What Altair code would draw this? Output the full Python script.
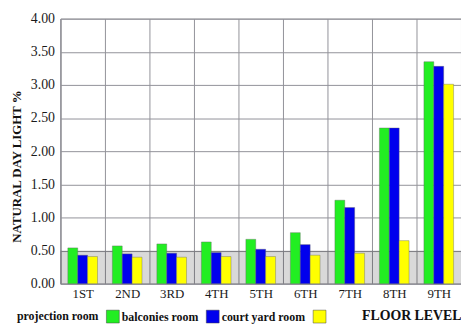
import altair as alt
import pandas as pd

floors = ["1ST", "2ND", "3RD", "4TH", "5TH", "6TH", "7TH", "8TH", "9TH"]
series = ["projection room", "balconies room", "court yard room"]
green_vals = [0.54, 0.57, 0.60, 0.63, 0.67, 0.77, 1.26, 2.35, 3.35]
blue_vals = [0.43, 0.45, 0.46, 0.47, 0.52, 0.59, 1.15, 2.35, 3.28]
yellow_vals = [0.41, 0.40, 0.40, 0.41, 0.41, 0.43, 0.46, 0.65, 3.01]
colors = ["#22ee22", "#0000ee", "#ffff00"]
legend_labels = ["balconies room", "court yard room", ""]
band_range = [0.0, 0.5]
y_ticks = [0.0, 0.5, 1.0, 1.5, 2.0, 2.5, 3.0, 3.5, 4.0]

rows = []
for s, vals in zip(series, [green_vals, blue_vals, yellow_vals]):
    for f, v in zip(floors, vals):
        rows.append({"floor": f, "series": s, "value": v})
df = pd.DataFrame(rows)

band_df = pd.DataFrame({"lo": [band_range[0]], "hi": [band_range[1]]})

FONT = "Liberation Serif"

label_map = "{" + ",".join(f"'{s}':'{l}'" for s, l in zip(series, legend_labels)) + "}"

yscale = alt.Scale(domain=[0, 4])

y_axis = alt.Axis(
    title="NATURAL DAY LIGHT %",
    titleFont=FONT,
    titleFontSize=13,
    titleFontWeight="bold",
    titleColor="#111111",
    titleX=-44,
    titleY=149,
    titleAlign="center",
    titleBaseline="middle",
    values=y_ticks,
    format=".2f",
    labelFont=FONT,
    labelFontSize=14,
    labelColor="#1a1a1a",
    labelPadding=6,
    labelOverlap=False,
    ticks=False,
    grid=True,
    gridColor="#929299",
    gridWidth=1,
    domainColor="#929299",
)

band = alt.Chart(band_df).mark_rect(color="#000000", opacity=0.15).encode(
    y=alt.Y("lo:Q", scale=yscale, axis=y_axis),
    y2="hi:Q",
)

bars = alt.Chart(df).mark_bar(stroke="#666666", strokeWidth=0.4).encode(
    x=alt.X(
        "floor:N",
        sort=floors,
        scale=alt.Scale(paddingInner=0, paddingOuter=0),
        axis=alt.Axis(
            title="FLOOR LEVEL",
            titleFont=FONT,
            titleFontSize=14,
            titleFontWeight="bold",
            titleColor="#111111",
            titleAnchor="end",
            titleAlign="right",
            titleBaseline="middle",
            titleX=405,
            titleY=32,
            labelFont=FONT,
            labelFontSize=13,
            labelColor="#1a1a1a",
            labelAngle=0,
            labelPadding=4,
            ticks=False,
            tickBand="extent",
            grid=True,
            gridColor="#929299",
            gridWidth=1,
            domainColor="#929299",
        ),
    ),
    xOffset=alt.XOffset("series:N", sort=series,
                        scale=alt.Scale(paddingOuter=0.75, paddingInner=0)),
    y=alt.Y("value:Q", scale=yscale, axis=y_axis),
    color=alt.Color(
        "series:N",
        sort=series,
        scale=alt.Scale(domain=series, range=colors),
        legend=alt.Legend(
            title="projection room",
            titleOrient="left",
            titleFont=FONT,
            titleFontSize=12,
            titleFontWeight="bold",
            titleColor="#111111",
            titlePadding=7,
            labelExpr=f"{label_map}[datum.label]",
            labelFont=FONT,
            labelFontSize=12,
            labelFontWeight="bold",
            labelColor="#111111",
            labelOffset=2,
            symbolType="square",
            symbolSize=169,
            symbolStrokeColor="#444444",
            symbolStrokeWidth=0.5,
            columnPadding=6,
            direction="horizontal",
            orient="none",
            legendX=-44,
            legendY=294,
        ),
    ),
)

chart = (
    alt.layer(band, bars)
    .properties(
        width=405,
        height=268,
        autosize=alt.AutoSizeParams(type="none"),
        padding={"left": 53, "top": 9, "right": 0, "bottom": 40},
        background="white",
    )
    .configure_view(stroke="#929299")
)

chart.save("out.html", embed_options={"renderer": "svg", "actions": False})
